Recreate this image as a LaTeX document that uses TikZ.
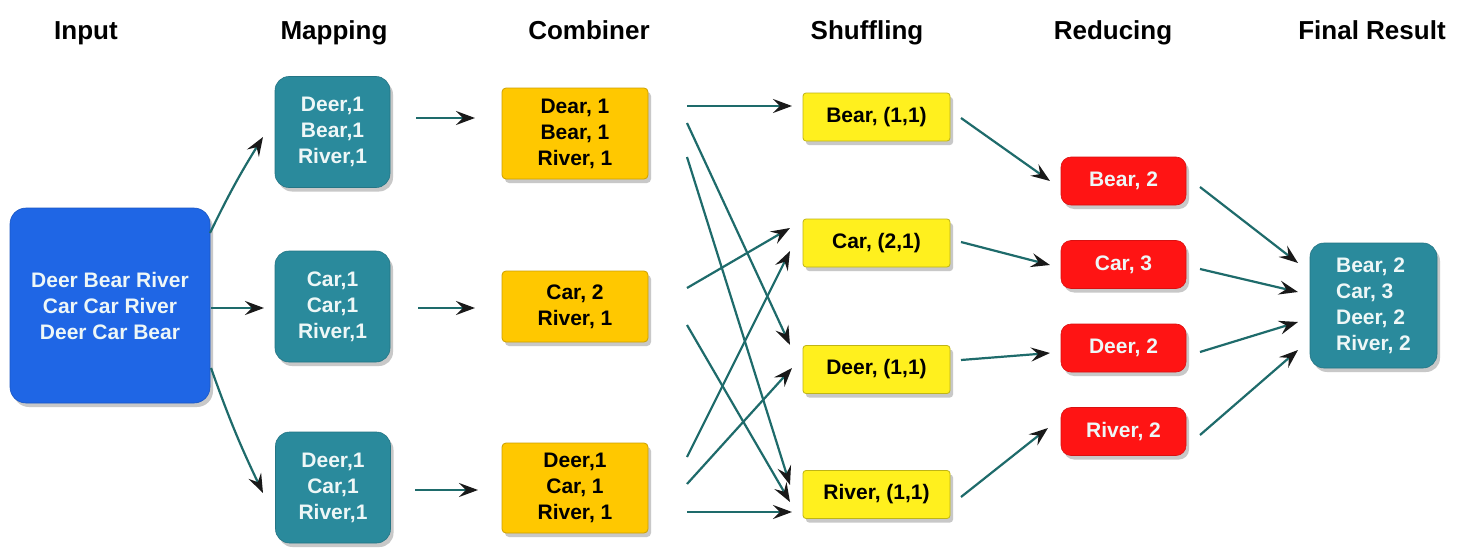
\documentclass[tikz,border=0pt]{standalone}
\usepackage{fontspec}
\setmainfont{Liberation Sans}
\usetikzlibrary{arrows.meta,shadows}
\definecolor{inblue}{HTML}{1F66E5}
\definecolor{mapteal}{HTML}{2A8A9C}
\definecolor{combgold}{HTML}{FFC800}
\definecolor{shufyel}{HTML}{FFF01E}
\definecolor{redbox}{HTML}{FF1414}
\definecolor{arrline}{HTML}{1E6B6B}
\definecolor{boxtxt}{HTML}{EEF7F7}
\begin{document}
\begin{tikzpicture}[x=1pt,y=-1pt,
  box/.style={rectangle, inner sep=0pt, align=center,
    font=\fontsize{21}{26}\selectfont\bfseries,
    drop shadow={shadow xshift=3pt,shadow yshift=-4pt,opacity=0.3,fill=black!70}},
  inbox/.style={box, fill=inblue, draw=inblue!85!black, line width=0.6pt, rounded corners=16pt, text=boxtxt, minimum width=200pt, minimum height=195pt},
  mapbox/.style={box, fill=mapteal, draw=mapteal!85!black, line width=0.6pt, rounded corners=14pt, text=boxtxt, minimum width=115pt, minimum height=111pt},
  combbox/.style={box, fill=combgold, draw=combgold!80!black, line width=0.8pt, rounded corners=4pt, text=black, minimum width=146pt},
  shufbox/.style={box, fill=shufyel, draw=shufyel!75!black, line width=0.8pt, rounded corners=3pt, text=black, minimum width=147pt, minimum height=48pt},
  redbx/.style={box, fill=redbox, draw=redbox!85!black, line width=0.6pt, rounded corners=10pt, text=boxtxt, minimum width=125pt, minimum height=48pt},
  finbox/.style={box, fill=mapteal, draw=mapteal!85!black, line width=0.6pt, rounded corners=14pt, text=boxtxt, align=left, minimum width=127pt, minimum height=125pt},
  hdr/.style={anchor=base, inner sep=0pt, font=\fontsize{26}{30}\selectfont\bfseries, text=black},
  arr/.style={draw=arrline, line width=2.2pt, -{Stealth[length=19pt,width=14pt,inset=7pt,color=black!90]}}
]
\useasboundingbox[fill=white] (0,0) rectangle (1462,551);

% headers
\node[hdr] (h1) at (86,40) {Input};
\node[hdr] (h2) at (334,40) {Mapping};
\node[hdr] (h3) at (589,40) {Combiner};
\node[hdr] (h4) at (867,40) {Shuffling};
\node[hdr] (h5) at (1113,40) {Reducing};
\node[hdr] (h6) at (1372,40) {Final Result};

% boxes
\node[inbox] (in) at (110,305.5) {Deer Bear River\\Car Car River\\Deer Car Bear};

\node[mapbox] (m1) at (332.5,132) {Deer,1\\Bear,1\\River,1};
\node[mapbox] (m2) at (332.5,306.5) {Car,1\\Car,1\\River,1};
\node[mapbox] (m3) at (333,487.5) {Deer,1\\Car,1\\River,1};

\node[combbox, minimum height=91pt] (c1) at (575,133.5) {Dear, 1\\Bear, 1\\River, 1};
\node[combbox, minimum height=71pt] (c2) at (575,306.5) {Car, 2\\River, 1};
\node[combbox, minimum height=90pt] (c3) at (575,488) {Deer,1\\Car, 1\\River, 1};

\node[shufbox] (s1) at (876.5,117) {Bear, (1,1)};
\node[shufbox] (s2) at (876.5,243) {Car, (2,1)};
\node[shufbox] (s3) at (876.5,369.5) {Deer, (1,1)};
\node[shufbox] (s4) at (876.5,494.5) {River, (1,1)};

\node[redbx] (r1) at (1123.5,181) {Bear, 2};
\node[redbx] (r2) at (1123.5,264.5) {Car, 3};
\node[redbx] (r3) at (1123.5,348) {Deer, 2};
\node[redbx] (r4) at (1123.5,431.5) {River, 2};

\node[finbox] (f) at (1373.5,305.5) {Bear, 2\\Car, 3\\Deer, 2\\River, 2};

% connector end points
\coordinate (im1a) at (210,233); \coordinate (im1b) at (263,137);
\coordinate (im2a) at (211,308); \coordinate (im2b) at (264,308);
\coordinate (im3a) at (211,368); \coordinate (im3b) at (263,493);

\coordinate (mc1a) at (416,118); \coordinate (mc1b) at (475,118);
\coordinate (mc2a) at (418,308); \coordinate (mc2b) at (475,308);
\coordinate (mc3a) at (415,490); \coordinate (mc3b) at (478,490);

\coordinate (cs1a) at (687,106); \coordinate (cs1b) at (792,106);
\coordinate (cs2a) at (687,123); \coordinate (cs2b) at (790,345);
\coordinate (cs3a) at (687,157); \coordinate (cs3b) at (790,485);
\coordinate (cs4a) at (687,288); \coordinate (cs4b) at (790,228);
\coordinate (cs5a) at (687,325); \coordinate (cs5b) at (790,502);
\coordinate (cs6a) at (687,457); \coordinate (cs6b) at (790,251);
\coordinate (cs7a) at (687,484); \coordinate (cs7b) at (792,368);
\coordinate (cs8a) at (687,512); \coordinate (cs8b) at (792,512);

\coordinate (sr1a) at (961,118); \coordinate (sr1b) at (1050,181);
\coordinate (sr2a) at (961,242); \coordinate (sr2b) at (1050,265);
\coordinate (sr3a) at (961,360); \coordinate (sr3b) at (1050,353);
\coordinate (sr4a) at (961,497); \coordinate (sr4b) at (1048,428);

\coordinate (rf1a) at (1200,187); \coordinate (rf1b) at (1298,263);
\coordinate (rf2a) at (1200,269); \coordinate (rf2b) at (1298,292);
\coordinate (rf3a) at (1200,352); \coordinate (rf3b) at (1298,322);
\coordinate (rf4a) at (1200,435); \coordinate (rf4b) at (1298,350);

% connectors
\draw[arr] (im1a) to[bend left=3] (im1b);
\draw[arr] (im2a) -- (im2b);
\draw[arr] (im3a) to[bend right=3] (im3b);

\draw[arr] (mc1a) -- (mc1b);
\draw[arr] (mc2a) -- (mc2b);
\draw[arr] (mc3a) -- (mc3b);

\foreach \i in {1,...,8} {\draw[arr] (cs\i a) -- (cs\i b);}
\foreach \i in {1,...,4} {\draw[arr] (sr\i a) -- (sr\i b);}
\foreach \i in {1,...,4} {\draw[arr] (rf\i a) -- (rf\i b);}
\end{tikzpicture}
\end{document}
